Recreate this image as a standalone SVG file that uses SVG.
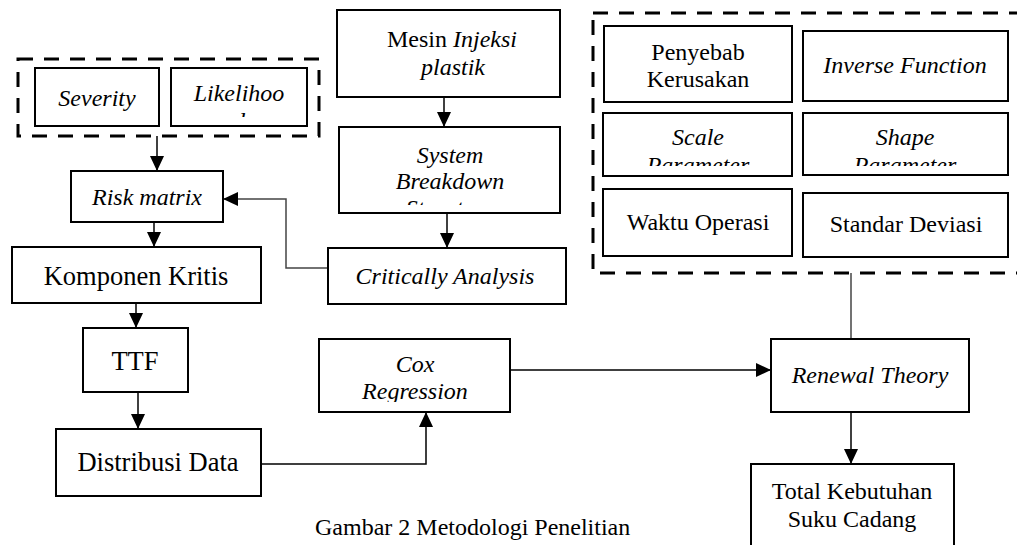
<svg xmlns="http://www.w3.org/2000/svg" width="1017" height="545" viewBox="0 0 1017 545">
<style>
.box{fill:#fff;stroke:#000;stroke-width:2}
.dash{fill:none;stroke:#000;stroke-width:3;stroke-dasharray:15 11}
.t{font-family:"Liberation Serif","Times New Roman",serif;font-size:24px;fill:#000;text-anchor:middle}
.b{font-size:26.5px}
.i{font-style:italic}
.c{fill:none;stroke:#000;stroke-width:1.5}
.g{fill:none;stroke:#444;stroke-width:1.5}
</style>
<defs>
<marker id="ah" markerWidth="15" markerHeight="14" refX="15" refY="7" orient="auto" markerUnits="userSpaceOnUse"><path d="M0,0 L15,7 L0,14 z" fill="#000"/></marker>
<clipPath id="clipLik"><rect x="171" y="68" width="136" height="49"/></clipPath>
<clipPath id="clipSbs"><rect x="339" y="127" width="221" height="78"/></clipPath>
<clipPath id="clipScale"><rect x="603" y="113" width="189" height="53"/></clipPath>
<clipPath id="clipShape"><rect x="803" y="113" width="205" height="53"/></clipPath>
<clipPath id="clipCox"><rect x="319" y="339" width="191" height="63"/></clipPath>
</defs>
<rect width="1017" height="545" fill="#fff"/>

<g id="connectors">
<path class="c" d="M157,136 V171" marker-end="url(#ah)"/>
<path class="c" d="M154,222 V247" marker-end="url(#ah)"/>
<path class="c" d="M136,303 V328" marker-end="url(#ah)"/>
<path class="c" d="M138,392 V429" marker-end="url(#ah)"/>
<path class="c" d="M261,464 H426 V412" marker-end="url(#ah)"/>
<path class="c" d="M510,370 H771" marker-end="url(#ah)"/>
<path class="g" d="M851,273 V339"/>
<path class="c" d="M851,412 V464" marker-end="url(#ah)"/>
<path class="c" d="M444,97 V127" marker-end="url(#ah)"/>
<path class="c" d="M447,213 V248" marker-end="url(#ah)"/>
<path class="g" d="M328,268 H286 V199 H223" marker-end="url(#ah)"/>
</g>

<g id="group-left">
<rect class="dash" x="18" y="59" width="301" height="77"/>
</g>
<g id="node-severity">
<rect class="box" x="35" y="68" width="124" height="58"/>
<text class="t i" x="97" y="106">Severity</text>
</g>
<g id="node-likelihood">
<rect class="box" x="171" y="68" width="136" height="58"/>
<g clip-path="url(#clipLik)">
<text class="t i" x="239" y="101">Likelihoo</text>
<text class="t i" x="239" y="129">d</text>
</g>
</g>
<g id="node-risk">
<rect class="box" x="71" y="171" width="152" height="51"/>
<text class="t i" x="147" y="205">Risk matrix</text>
</g>
<g id="node-kk">
<rect class="box" x="12" y="247" width="249" height="56"/>
<text class="t b" x="136" y="285">Komponen Kritis</text>
</g>
<g id="node-ttf">
<rect class="box" x="83" y="328" width="105" height="64"/>
<text class="t b" x="135" y="370">TTF</text>
</g>
<g id="node-distribusi">
<rect class="box" x="56" y="429" width="205" height="67"/>
<text class="t b" x="158" y="471">Distribusi Data</text>
</g>
<g id="node-mesin">
<rect class="box" x="337" y="10" width="223" height="87"/>
<text class="t" x="452" y="47">Mesin <tspan class="i">Injeksi</tspan></text>
<text class="t i" x="453" y="75">plastik</text>
</g>
<g id="node-sbs">
<rect class="box" x="339" y="127" width="221" height="86"/>
<g clip-path="url(#clipSbs)">
<text class="t i" x="450" y="163">System</text>
<text class="t i" x="450" y="189">Breakdown</text>
<text class="t i" x="450" y="216">Structure</text>
</g>
</g>
<g id="node-critically">
<rect class="box" x="328" y="248" width="238" height="56"/>
<text class="t i" x="445" y="284">Critically Analysis</text>
</g>
<g id="node-cox">
<rect class="box" x="319" y="339" width="191" height="73"/>
<g clip-path="url(#clipCox)">
<text class="t i" x="415" y="372">Cox</text>
<text class="t i" x="415" y="399">Regression</text>
</g>
</g>
<g id="node-renewal">
<rect class="box" x="771" y="339" width="198" height="73"/>
<text class="t i" x="870" y="383">Renewal Theory</text>
</g>
<g id="node-total">
<rect class="box" x="751" y="464" width="203" height="95"/>
<text class="t" x="852" y="499">Total Kebutuhan</text>
<text class="t" x="852" y="527">Suku Cadang</text>
</g>

<g id="group-right">
<rect class="dash" x="593" y="13" width="440" height="260"/>
</g>
<g id="node-penyebab">
<rect class="box" x="604" y="26" width="188" height="76"/>
<text class="t" x="698" y="60">Penyebab</text>
<text class="t" x="698" y="87">Kerusakan</text>
</g>
<g id="node-inverse">
<rect class="box" x="803" y="31" width="205" height="70"/>
<text class="t i" x="905" y="73">Inverse Function</text>
</g>
<g id="node-scale">
<rect class="box" x="603" y="113" width="189" height="63"/>
<g clip-path="url(#clipScale)">
<text class="t i" x="698" y="145">Scale</text>
<text class="t i" x="698" y="173">Parameter</text>
</g>
</g>
<g id="node-shape">
<rect class="box" x="803" y="113" width="205" height="62"/>
<g clip-path="url(#clipShape)">
<text class="t i" x="905" y="145">Shape</text>
<text class="t i" x="905" y="173">Parameter</text>
</g>
</g>
<g id="node-waktu">
<rect class="box" x="603" y="189" width="189" height="67"/>
<text class="t" x="698" y="230">Waktu Operasi</text>
</g>
<g id="node-standar">
<rect class="box" x="803" y="193" width="205" height="64"/>
<text class="t" x="906" y="232">Standar Deviasi</text>
</g>

<text class="t" x="315" y="535" style="text-anchor:start">Gambar 2 Metodologi Penelitian</text>
</svg>
